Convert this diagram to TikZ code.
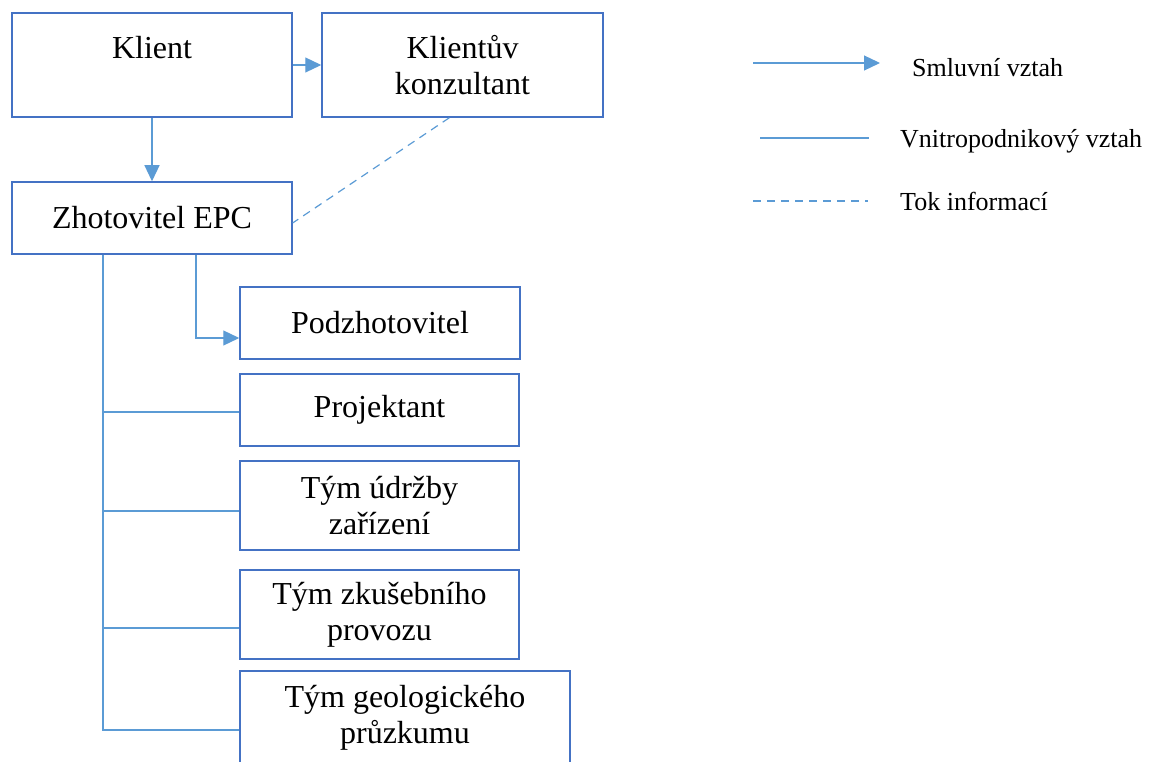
\documentclass[tikz,border=0pt]{standalone}
\usepackage{fontspec}
\setmainfont{Liberation Serif}
\usetikzlibrary{arrows.meta}
\definecolor{boxblue}{HTML}{4472C4}
\definecolor{linkblue}{HTML}{5B9BD5}
\begin{document}
\begin{tikzpicture}[x=1pt, y=-1pt,
  box/.style={draw=boxblue, line width=1.5pt, rectangle, align=center, inner sep=0pt, font=\fontsize{32}{36}\selectfont},
  link/.style={draw=linkblue, line width=1.2pt},
  arr/.style={link, -{Triangle[length=16pt,width=15pt]}},
  info/.style={link, dash pattern=on 8pt off 6pt},
  legend/.style={anchor=west, inner sep=0pt, font=\fontsize{26}{30}\selectfont}]
  \useasboundingbox (0,0) rectangle (1165,762);

  \node (klient) [box, minimum width=280pt, minimum height=104pt] at (152,65) {Klient\\\mbox{}};
  \node (konz) [box, minimum width=281pt, minimum height=104pt] at (462.5,65) {Klientův\\konzultant};
  \node (epc) [box, minimum width=280pt, minimum height=72pt] at (152,218) {Zhotovitel EPC};
  \node (pod) [box, minimum width=280pt, minimum height=72pt] at (380,323) {Podzhotovitel};
  \node (proj) [box, minimum width=279pt, minimum height=72pt] at (379.5,410) {Projektant};
  \node (udrz) [box, minimum width=279pt, minimum height=89pt] at (379.5,505.5) {Tým údržby\\zařízení};
  \node (zkus) [box, minimum width=279pt, minimum height=89pt] at (379.5,614.5) {Tým zkušebního\\provozu};
  \node (geo) [box, minimum width=330pt, minimum height=94pt] at (405,718) {Tým geologického\\průzkumu};

  \draw [arr] (klient) -- (konz);
  \draw [arr] (klient) -- (epc);
  \draw [info] (konz.256) -- (epc.358);
  \draw [arr] ([xshift=44pt]epc.south) |- ([yshift=-15pt]pod.west);
  \coordinate (bus) at ([xshift=-49pt]epc.south);
  \foreach \n/\d in {proj/-2, udrz/-5.5, zkus/-13.5, geo/-12}
    \draw [link] (bus) |- ([yshift=\d pt]\n.west);

  \coordinate (s1) at (753,63);
  \coordinate (s2) at (880,63);
  \coordinate (v1) at (760,138);
  \coordinate (v2) at (869,138);
  \coordinate (t1) at (753,201);
  \coordinate (t2) at (868,201);
  \draw [arr] (s1) -- (s2);
  \draw [link, line width=2.2pt] (v1) -- (v2);
  \draw [info] (t1) -- (t2);
  \node (smlouva) [legend] at (912,68) {Smluvní vztah};
  \node (vnitro) [legend] at (900,141) {Vnitropodnikový vztah};
  \node (tok) [legend] at (900,201) {Tok informací};
\end{tikzpicture}
\end{document}
